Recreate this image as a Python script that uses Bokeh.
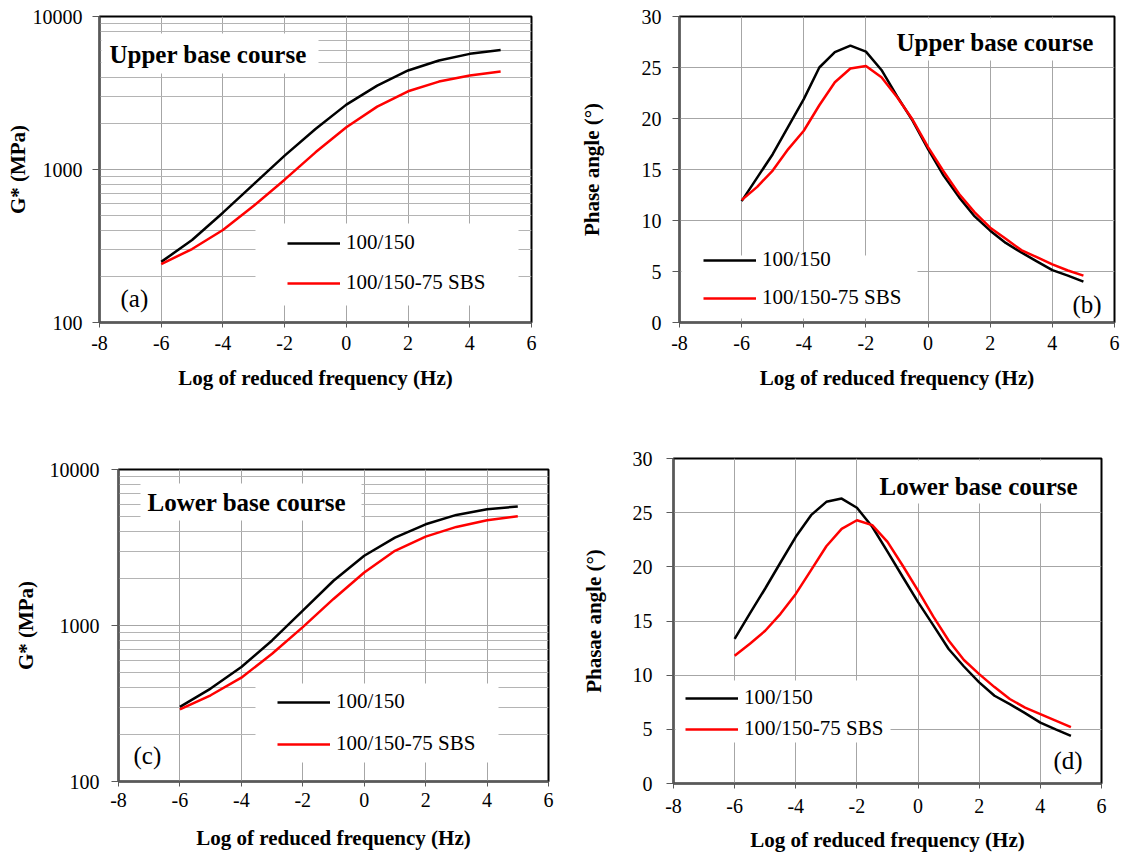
import math
from bokeh.plotting import figure
from bokeh.models import (Range1d, FixedTicker, PrintfTickFormatter, Legend,
                          LegendItem, Label, BoxAnnotation)
from bokeh.layouts import column, row
from bokeh.embed import file_html
from bokeh.resources import INLINE

SERIF = "Liberation Serif"

# ---------------- data ----------------
x_ticks = [-8, -6, -4, -2, 0, 2, 4, 6]
g_major_ticks = [100, 1000, 10000]
g_minor_ticks = [200, 300, 400, 500, 600, 700, 800, 900,
                 2000, 3000, 4000, 5000, 6000, 7000, 8000, 9000]
phase_ticks = [0, 5, 10, 15, 20, 25, 30]

series_names = ["100/150", "100/150-75 SBS"]

freq_g = [-6, -5, -4, -3, -2, -1, 0, 1, 2, 3, 4, 5]
g_upper_neat = [249, 346, 522, 803, 1233, 1840, 2655, 3535, 4440, 5155, 5700, 6050]
g_upper_sbs = [241, 302, 402, 580, 858, 1295, 1888, 2575, 3245, 3755, 4110, 4365]
g_lower_neat = [301, 394, 542, 802, 1246, 1936, 2798, 3660, 4455, 5115, 5555, 5800]
g_lower_sbs = [290, 357, 463, 659, 976, 1480, 2188, 3013, 3716, 4285, 4725, 5010]

freq_p = [-6, -5.5, -5, -4.5, -4, -3.5, -3, -2.5, -2, -1.5, -1, -0.5,
          0, 0.5, 1, 1.5, 2, 2.5, 3, 3.5, 4, 4.5, 5]
p_upper_neat = [11.9, 14.2, 16.5, 19.2, 21.9, 25.0, 26.5, 27.15, 26.56, 24.76, 22.2, 19.8,
                17.0, 14.4, 12.27, 10.4, 9.0, 7.8, 6.87, 6.0, 5.13, 4.6, 4.0]
p_upper_sbs = [12.0, 13.3, 14.9, 17.0, 18.8, 21.3, 23.55, 24.9, 25.15, 24.05, 22.1, 19.9,
               17.2, 14.8, 12.6, 10.8, 9.3, 8.2, 7.1, 6.4, 5.7, 5.1, 4.6]
p_lower_neat = [13.35, 15.7, 18.0, 20.4, 22.77, 24.77, 26.0, 26.3, 25.45, 23.7, 21.4, 19.06,
                16.74, 14.6, 12.42, 10.8, 9.33, 8.1, 7.32, 6.5, 5.62, 5.0, 4.39]
p_lower_sbs = [11.8, 12.9, 14.1, 15.66, 17.5, 19.7, 21.9, 23.5, 24.3, 23.85, 22.3, 20.1,
               17.8, 15.4, 13.2, 11.4, 10.1, 8.9, 7.8, 7.0, 6.4, 5.8, 5.2]

# ---------------- layout specs (page pixels) ----------------
X_MIN, X_MAX = -8, 6

panels = [
    dict(name="a", ox=0, oy=0, W=560, H=420, left=99, top=16, fw=432, fh=306, log=True,
         ylabel="G* (MPa)", title="Upper base course", letter="(a)",
         x=freq_g, y1=g_upper_neat, y2=g_upper_sbs,
         title_pos=(109, 54), letter_pos=(120, 298),
         title_box=(101, 318, 33, 73), legend_box=(255, 518, 223, 305),
         legend_glyph=(287, 295), leg_h=24, leg_s=15,
         y_tick_standoff=10, y_label_standoff=0, x_tick_standoff=8, x_label_standoff=13),
    dict(name="b", ox=560, oy=0, W=563, H=420, left=119, top=16, fw=435, fh=306, log=False,
         ylabel="Phase angle (°)", title="Upper base course", letter="(b)",
         x=freq_p, y1=p_upper_neat, y2=p_upper_sbs,
         title_pos=(896, 42), letter_pos=(1072, 304),
         title_box=(888, 1112, 18, 60), legend_box=(681, 917, 255, 318),
         legend_glyph=(703, 310), leg_h=24, leg_s=13,
         y_tick_standoff=11, y_label_standoff=35, x_tick_standoff=8, x_label_standoff=13),
    dict(name="c", ox=0, oy=420, W=560, H=435, left=118, top=49, fw=430, fh=312, log=True,
         ylabel="G* (MPa)", title="Lower base course", letter="(c)",
         x=freq_g, y1=g_lower_neat, y2=g_lower_sbs,
         title_pos=(147, 502), letter_pos=(133, 755),
         title_box=(140, 361, 483, 520), legend_box=(255, 498, 683, 762),
         legend_glyph=(277, 756), leg_h=24, leg_s=17,
         y_tick_standoff=12, y_label_standoff=9, x_tick_standoff=6, x_label_standoff=16),
    dict(name="d", ox=560, oy=420, W=563, H=435, left=113, top=38, fw=428, fh=325, log=False,
         ylabel="Phasae angle (°)", title="Lower base course", letter="(d)",
         x=freq_p, y1=p_lower_neat, y2=p_lower_sbs,
         title_pos=(879, 486), letter_pos=(1053, 760),
         title_box=(871, 1099, 460, 503), legend_box=(675, 890, 680, 742),
         legend_glyph=(685, 741), leg_h=24, leg_s=6,
         y_tick_standoff=14, y_label_standoff=24, x_tick_standoff=10, x_label_standoff=12),
]


def to_data(sp, px, py):
    x0 = sp["ox"] + sp["left"]
    yb = sp["oy"] + sp["top"] + sp["fh"]
    fx = (px - x0) / sp["fw"]
    fy = (yb - py) / sp["fh"]
    x = X_MIN + (X_MAX - X_MIN) * fx
    if sp["log"]:
        y = 10 ** (2 + 2 * fy)
    else:
        y = 30 * fy
    return x, y


def make_panel(sp):
    kw = dict(width=sp["W"], height=sp["H"], frame_width=sp["fw"], frame_height=sp["fh"],
              min_border_left=sp["left"], min_border_top=sp["top"],
              min_border_right=sp["W"] - sp["left"] - sp["fw"],
              min_border_bottom=sp["H"] - sp["top"] - sp["fh"],
              output_backend="svg", toolbar_location=None,
              x_range=Range1d(X_MIN, X_MAX))
    if sp["log"]:
        p = figure(y_axis_type="log", y_range=Range1d(100, 10000), **kw)
        p.yaxis.ticker = FixedTicker(ticks=g_major_ticks, minor_ticks=g_minor_ticks)
        p.yaxis.formatter = PrintfTickFormatter(format="%d")
        p.ygrid.minor_grid_line_color = "#b4b4b4"
        p.ygrid.minor_grid_line_width = 1
    else:
        p = figure(y_range=Range1d(0, 30), **kw)
        p.yaxis.ticker = FixedTicker(ticks=phase_ticks)
        p.yaxis.formatter = PrintfTickFormatter(format="%d")
    p.xaxis.ticker = FixedTicker(ticks=x_ticks)
    p.xaxis.formatter = PrintfTickFormatter(format="%d")

    p.background_fill_color = "white"
    p.border_fill_color = "white"
    p.outline_line_color = "black"
    p.outline_line_width = 2
    p.grid.grid_line_color = "#a6a6a6"
    p.grid.grid_line_width = 1

    for ax in (p.xaxis[0], p.yaxis[0]):
        ax.axis_line_color = "#595959"
        ax.axis_line_width = 2
        ax.major_tick_line_color = "#595959"
        ax.major_tick_in = 0
        ax.minor_tick_line_color = None
        ax.major_label_text_font = SERIF
        ax.major_label_text_font_size = "20px"
        ax.major_label_text_color = "black"
        ax.axis_label_text_font = SERIF
        ax.axis_label_text_font_style = "bold"
        ax.axis_label_text_font_size = "21px"
        ax.axis_label_text_color = "black"
    p.xaxis.major_tick_out = 5
    p.yaxis.major_tick_out = 7
    p.xaxis.axis_label = "Log of reduced frequency (Hz)"
    p.yaxis.axis_label = sp["ylabel"]
    p.xaxis.major_label_standoff = sp["x_tick_standoff"]
    p.xaxis.axis_label_standoff = sp["x_label_standoff"]
    p.yaxis.major_label_standoff = sp["y_tick_standoff"]
    p.yaxis.axis_label_standoff = sp["y_label_standoff"]

    # white backgrounds behind title and legend (over grid, under lines)
    for (l, r, t, b) in (sp["title_box"], sp["legend_box"]):
        x_l, y_b = to_data(sp, l, b)
        x_r, y_t = to_data(sp, r, t)
        p.add_layout(BoxAnnotation(left=x_l, right=x_r, bottom=y_b, top=y_t,
                                   fill_color="white", fill_alpha=1.0,
                                   line_color=None, level="underlay"))

    r1 = p.line(sp["x"], sp["y1"], line_color="black", line_width=2.5)
    r2 = p.line(sp["x"], sp["y2"], line_color="#ff0000", line_width=2.5)

    tx, ty = to_data(sp, *sp["title_pos"])
    p.add_layout(Label(x=tx, y=ty, text=sp["title"], text_font=SERIF,
                       text_font_style="bold", text_font_size="25px",
                       text_baseline="middle", text_align="left", text_color="black"))
    lx, ly = to_data(sp, *sp["letter_pos"])
    p.add_layout(Label(x=lx, y=ly, text=sp["letter"], text_font=SERIF,
                       text_font_size="25px", text_baseline="middle",
                       text_align="left", text_color="black"))

    gx, gb = sp["legend_glyph"]
    loc = (gx - (sp["ox"] + sp["left"]), (sp["oy"] + sp["top"] + sp["fh"]) - gb)
    legend = Legend(items=[LegendItem(label=series_names[0], renderers=[r1]),
                           LegendItem(label=series_names[1], renderers=[r2])],
                    location=loc, padding=0, margin=0, spacing=sp["leg_s"],
                    glyph_width=53, glyph_height=sp["leg_h"], label_height=sp["leg_h"],
                    label_standoff=6, background_fill_alpha=0, border_line_color=None,
                    label_text_font=SERIF, label_text_font_size="21px",
                    label_text_color="black")
    p.add_layout(legend)
    return p


figs = [make_panel(sp) for sp in panels]
layout = column(row(column(figs[0]), column(figs[1])),
                row(column(figs[2]), column(figs[3])))
open("out.html", "w").write(file_html(layout, INLINE))
